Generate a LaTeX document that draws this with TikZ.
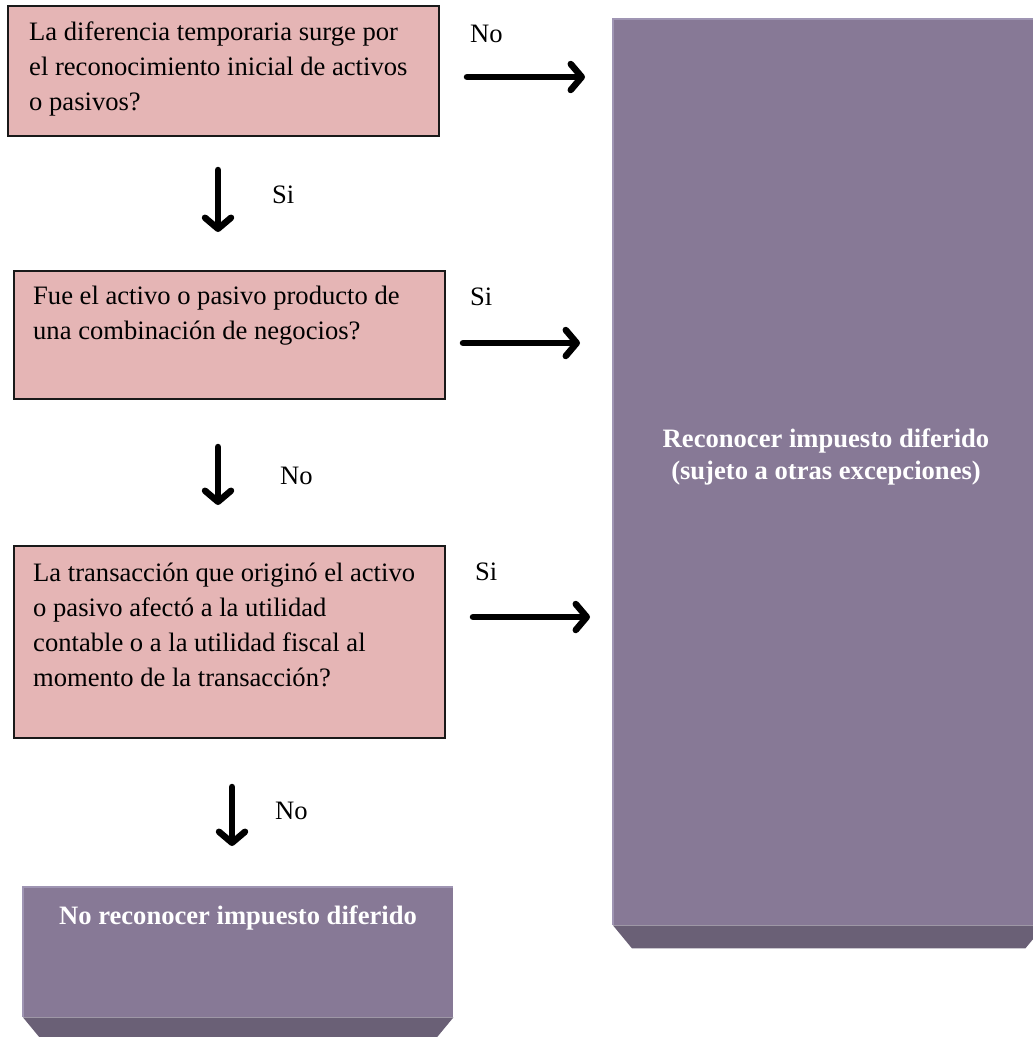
\documentclass[tikz,border=0pt]{standalone}
\usepackage{fontspec}
\setmainfont{Liberation Serif}
\usetikzlibrary{arrows.meta}
\definecolor{pinkfill}{HTML}{E5B5B5}
\definecolor{purpface}{HTML}{877996}
\definecolor{purpbevel}{HTML}{6A6076}
\definecolor{purpedge}{HTML}{9F95B3}
\tikzset{
  qbox/.style={draw=black!90, line width=2pt, fill=pinkfill, inner sep=0pt, anchor=north west},
  qtext/.style={anchor=base west, inner sep=0pt, font=\fontsize{26.6}{35}\selectfont},
  lbl/.style={anchor=base west, inner sep=0pt, font=\fontsize{26.6}{35}\selectfont},
  flow/.style={line width=6.5pt, line cap=round, -{Straight Barb[length=11pt,width=26pt,round]}},
  pbox/.style={fill=purpface, inner sep=0pt, anchor=north west},
  ptext/.style={text=white, font=\fontsize{26.6}{32}\selectfont\bfseries, inner sep=0pt, anchor=base},
}
\begin{document}
\begin{tikzpicture}[x=1pt,y=-1pt]
\useasboundingbox (0,0) rectangle (1033,1037);
\clip (0,0) rectangle (1033,1037);

% question boxes
\node[qbox, minimum width=431pt, minimum height=130pt] (q1) at (7,5) {};
\node[qbox, minimum width=431pt, minimum height=128pt] (q2) at (13,270) {};
\node[qbox, minimum width=431pt, minimum height=192pt] (q3) at (13,545) {};

\node[qtext] (t1) at (29,40) {\parbox[t]{420pt}{La diferencia temporaria surge por\\el reconocimiento inicial de activos\\o pasivos?}};
\node[qtext] (t2) at (33,304) {\parbox[t]{420pt}{Fue el activo o pasivo producto de\\una combinación de negocios?}};
\node[qtext] (t3) at (33,581) {\parbox[t]{420pt}{La transacción que originó el activo\\o pasivo afectó a la utilidad\\contable o a la utilidad fiscal al\\momento de la transacción?}};

% purple result boxes
\node[pbox, minimum width=431pt, minimum height=906pt] (big) at (613,19) {};
\fill[purpbevel] (big.south west) -- (big.south east) -- ([xshift=-19pt,yshift=-23pt]big.south east) -- ([xshift=19pt,yshift=-23pt]big.south west) -- cycle;
\draw[purpedge, line width=1.2pt] (big.south west) -- (big.north west) -- (big.north east);

\node[pbox, minimum width=430pt, minimum height=130pt] (small) at (23,887) {};
\fill[purpbevel] (small.south west) -- (small.south east) -- ([xshift=-19pt,yshift=-23pt]small.south east) -- ([xshift=19pt,yshift=-23pt]small.south west) -- cycle;
\draw[purpedge, line width=1.2pt] (small.south west) -- (small.north west) -- (small.north east);

\node[ptext] (bt) at (826,447) {\parbox[t]{420pt}{\centering Reconocer impuesto diferido\\(sujeto a otras excepciones)}};
\node[ptext] (st) at (238,924) {No reconocer impuesto diferido};

% arrow end points
\coordinate (a1s) at (467,77);  \coordinate (a1e) at (585,77);
\coordinate (d1s) at (218,170); \coordinate (d1e) at (218,232);
\coordinate (a2s) at (463,343); \coordinate (a2e) at (580,343);
\coordinate (d2s) at (218,447); \coordinate (d2e) at (218,505);
\coordinate (a3s) at (473,617); \coordinate (a3e) at (590,617);
\coordinate (d3s) at (232,787); \coordinate (d3e) at (232,846);

\draw[flow] (a1s) -- (a1e);
\draw[flow] (d1s) -- (d1e);
\draw[flow] (a2s) -- (a2e);
\draw[flow] (d2s) -- (d2e);
\draw[flow] (a3s) -- (a3e);
\draw[flow] (d3s) -- (d3e);

% labels
\node[lbl] (l1) at (470,42) {No};
\node[lbl] (l2) at (272,203) {Si};
\node[lbl] (l3) at (470,305) {Si};
\node[lbl] (l4) at (280,484) {No};
\node[lbl] (l5) at (475,580) {Si};
\node[lbl] (l6) at (275,819) {No};
\end{tikzpicture}
\end{document}
